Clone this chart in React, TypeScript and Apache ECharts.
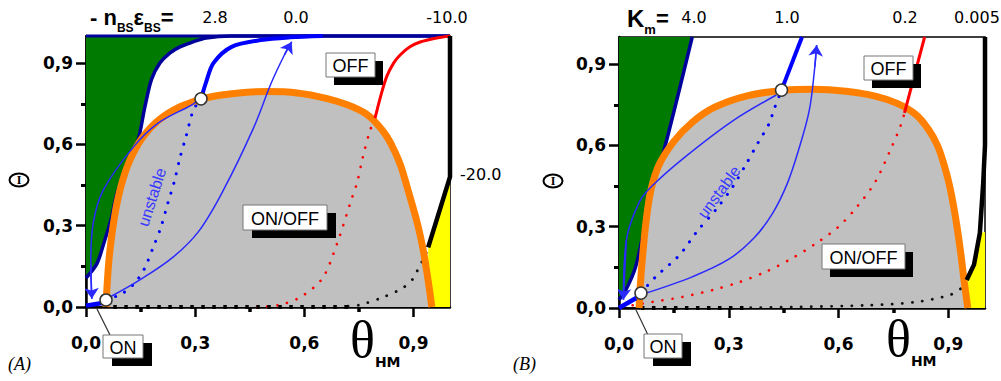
import React, { useEffect, useRef } from 'react';
import * as echarts from 'echarts';

type P = [number, number];

// ---------- axis values ----------
const majorTicks = [0, 0.3, 0.6, 0.9];
const minorTicks = [0.15, 0.45, 0.75];

// ---------- Panel A ----------
const paramLabelsA = ['2.8', '0.0', '-10.0', '-20.0'];
const navyA: P[] = [[0.0, 0.107], [0.03, 0.16], [0.05, 0.24], [0.07, 0.33], [0.085, 0.42], [0.115, 0.53], [0.143, 0.616], [0.162, 0.74], [0.18, 0.84], [0.203, 0.9], [0.23, 0.937], [0.258, 0.96], [0.294, 0.978], [0.33, 0.993], [0.4, 1.0], [1.0, 1.0]];
const topEdgeA: P[] = [[0, 1], [1, 1]];
const domeA: P[] = [[0.055, 0], [0.058, 0.08], [0.065, 0.2], [0.078, 0.33], [0.095, 0.44], [0.12, 0.54], [0.155, 0.625], [0.2, 0.69], [0.26, 0.74], [0.33, 0.772], [0.42, 0.79], [0.5, 0.795], [0.58, 0.79], [0.66, 0.77], [0.72, 0.745], [0.77, 0.712], [0.8, 0.675], [0.826, 0.63], [0.848, 0.575], [0.865, 0.52], [0.885, 0.43], [0.9, 0.36], [0.912, 0.3], [0.925, 0.22], [0.935, 0.14], [0.943, 0.07], [0.95, 0]];
const yellowA: P[] = [[0.94, 0.22], [1.0, 0.48]];
const blackA: P[] = [[0.94, 0.22], [1.0, 0.48], [1.0, 1.0]];
const blackDotA: P[] = [[0.72, 0.003], [0.75, 0.007], [0.81, 0.033], [0.87, 0.07], [0.9, 0.107], [0.915, 0.148], [0.93, 0.185], [0.94, 0.22]];
const blackSqA: P[] = [[0.075, 0], [0.72, 0]];
const redA: P[] = [[0.794, 0.697], [0.81, 0.78], [0.826, 0.85], [0.845, 0.9], [0.863, 0.93], [0.89, 0.96], [0.918, 0.978], [0.96, 0.992], [1.0, 1.0]];
const redDotA: P[] = [[0.47, 0], [0.53, 0.007], [0.59, 0.037], [0.65, 0.107], [0.69, 0.235], [0.73, 0.4], [0.745, 0.46], [0.76, 0.55], [0.78, 0.65], [0.794, 0.697]];
const blueA: P[] = [[0.316, 0.768], [0.33, 0.83], [0.35, 0.9], [0.4, 0.96], [0.48, 0.985], [0.56, 0.995], [0.65, 1.0]];
const blueDotA: P[] = [[0.055, 0.026], [0.1, 0.05], [0.135, 0.09], [0.16, 0.14], [0.184, 0.218], [0.206, 0.295], [0.225, 0.384], [0.242, 0.46], [0.258, 0.55], [0.275, 0.63], [0.295, 0.727], [0.316, 0.768]];
const blueOnA: P[] = [[0.0, 0.005], [0.045, 0.015]];
const arrowUpA: P[] = [[0.066, 0.037], [0.148, 0.1], [0.24, 0.185], [0.31, 0.28], [0.377, 0.43], [0.46, 0.66], [0.51, 0.83], [0.545, 0.93], [0.565, 0.978]];
const arrowDownA: P[] = [[0.305, 0.76], [0.29, 0.745], [0.2, 0.68], [0.13, 0.59], [0.047, 0.43], [0.02, 0.31], [0.013, 0.16], [0.016, 0.03]];
const pointsA: P[] = [[0.055, 0.026], [0.316, 0.768]];

// ---------- Panel B ----------
const paramLabelsB = ['4.0', '1.0', '0.2', '0.005'];
const navyB: P[] = [[0.0, 0.03], [0.02, 0.07], [0.045, 0.15], [0.07, 0.3], [0.09, 0.45], [0.118, 0.557], [0.2, 1.0]];
const domeB: P[] = [[0.055, 0], [0.058, 0.08], [0.065, 0.2], [0.075, 0.33], [0.088, 0.44], [0.11, 0.53], [0.15, 0.615], [0.2, 0.685], [0.26, 0.74], [0.35, 0.783], [0.45, 0.803], [0.53, 0.807], [0.62, 0.8], [0.7, 0.782], [0.76, 0.755], [0.81, 0.715], [0.845, 0.66], [0.87, 0.6], [0.89, 0.52], [0.905, 0.44], [0.92, 0.33], [0.933, 0.21], [0.943, 0.1], [0.953, 0]];
const yellowB: P[] = [[0.95, 0.103], [0.97, 0.16], [0.986, 0.277], [1.0, 0.28]];
const blackB: P[] = [[0.95, 0.103], [0.97, 0.16], [0.986, 0.277], [0.995, 0.46], [1.0, 0.6], [1.0, 1.0]];
const blackDotB: P[] = [[0.36, 0.001], [0.49, 0.004], [0.68, 0.01], [0.81, 0.022], [0.904, 0.048], [0.937, 0.074], [0.955, 0.09]];
const blackSqB: P[] = [[0.06, 0], [0.36, 0]];
const redB: P[] = [[0.78, 0.72], [0.835, 1.0]];
const redDotB: P[] = [[0.01, 0.004], [0.09, 0.022], [0.17, 0.04], [0.255, 0.066], [0.33, 0.096], [0.4, 0.133], [0.475, 0.185], [0.54, 0.24], [0.6, 0.3], [0.65, 0.373], [0.7, 0.465], [0.745, 0.594], [0.77, 0.675], [0.78, 0.72]];
const blueB: P[] = [[0.444, 0.804], [0.5, 1.0]];
const blueDotB: P[] = [[0.06, 0.055], [0.1, 0.115], [0.165, 0.195], [0.214, 0.284], [0.266, 0.365], [0.31, 0.446], [0.347, 0.53], [0.38, 0.61], [0.41, 0.68], [0.425, 0.738], [0.444, 0.804]];
const blueOnB: P[] = [[0.0, 0.0], [0.047, 0.037]];
const arrowUpB: P[] = [[0.074, 0.055], [0.2, 0.115], [0.3, 0.18], [0.37, 0.26], [0.42, 0.35], [0.46, 0.46], [0.49, 0.58], [0.52, 0.73], [0.535, 0.89], [0.54, 0.97]];
const arrowDownB: P[] = [[0.43, 0.786], [0.31, 0.69], [0.18, 0.557], [0.09, 0.45], [0.055, 0.39], [0.02, 0.25], [0.012, 0.03]];
const pointsB: P[] = [[0.06, 0.055], [0.444, 0.804]];

const boxLabels = ['OFF', 'ON/OFF', 'ON'];

// ---------- styles ----------
const GREEN = '#007a00';
const GRAY = '#c0c0c0';
const ORANGE = '#ff8000';
const YELLOW = '#ffff00';
const NAVY = '#00009a';
const BLUE = '#0000ff';
const RED = '#ff0000';
const THIN = '#2a2aff';
const SANS = 'Liberation Sans';
const WIDE = 'DejaVu Sans';
const SERIF = 'Liberation Serif';

const fmt = (v: number) => v.toFixed(1).replace('.', ',');

function axes(gridIndex: number) {
  const lineStyle = { color: '#000', width: 2.5 };
  const base = { type: 'value', gridIndex, min: 0, max: 1, splitLine: { show: false } };
  const label = { customValues: majorTicks, formatter: fmt, color: '#000', fontFamily: WIDE, fontWeight: 'bold', fontSize: 17 };
  return {
    x: [
      { ...base, position: 'bottom', axisLine: { show: true, onZero: false, lineStyle }, axisTick: { show: true, customValues: majorTicks, length: 10, lineStyle: { color: '#000', width: 2.5 } }, axisLabel: { ...label, margin: 27 } },
      { ...base, position: 'bottom', axisLine: { show: false }, axisTick: { show: true, customValues: minorTicks, length: 5, lineStyle: { color: '#000', width: 3.5 } }, axisLabel: { show: false } },
    ],
    y: [
      { ...base, position: 'left', axisLine: { show: true, onZero: false, lineStyle }, axisTick: { show: true, customValues: majorTicks, length: 10, lineStyle: { color: '#000', width: 2.5 } }, axisLabel: { ...label, margin: 13 } },
      { ...base, position: 'left', axisLine: { show: false }, axisTick: { show: true, customValues: minorTicks, length: 5, lineStyle: { color: '#000', width: 3 } }, axisLabel: { show: false } },
    ],
  };
}

function makeSeries(ai: number, d: any) {
  const common = { xAxisIndex: ai, yAxisIndex: ai, showSymbol: false, symbol: 'none', clip: false, silent: true, animation: false };
  const area = (data: P[], color: string, origin: string, z: number, smooth: number) => ({
    ...common, type: 'line', data, z, smooth,
    lineStyle: { opacity: 0, width: 0 }, areaStyle: { color, opacity: 1, origin },
  });
  const line = (data: P[], color: string, width: number, z: number, smooth: number | boolean, extra: any = {}) => ({
    ...common, type: 'line', data, z, smooth,
    lineStyle: { color, width, ...extra },
  });
  const dotted = (data: P[], color: string, width: number) => line(data, color, width, 3, 0.3, { type: [0.1, 10], cap: 'round' });
  const head = (arr: P[], size: number) => ({
    type: 'lines', coordinateSystem: 'cartesian2d', xAxisIndex: ai, yAxisIndex: ai, z: 7, silent: true, animation: false,
    symbol: ['none', 'arrow'], symbolSize: size,
    lineStyle: { color: THIN, width: 1.5, opacity: 1, curveness: 0 },
    data: [{ coords: [arr[arr.length - 2], arr[arr.length - 1]] }],
  });
  const s: any[] = [
    area(d.navy, GREEN, 'end', 1, 0.3),
    area(d.yellow, YELLOW, 'start', 1, 0),
    area(d.dome, GRAY, 'start', 2, 0.4),
    dotted(d.blueDot, BLUE, 3),
    dotted(d.redDot, RED, 2.6),
    dotted(d.blackDot, '#111', 2.8),
    line(d.blackSq, '#000', 4, 3, false, { type: [3.5, 7.5] }),
    line(d.navy, NAVY, 3.5, 4, 0.3),
    line(d.dome, ORANGE, 7, 5, 0.4),
    line(d.blue, BLUE, 4, 6, 0.3),
    line(d.red, RED, 3, 6, 0.3),
    line(d.black, '#000', 4.5, 6, false),
    line(d.blueOn, BLUE, 4.5, 6, false),
    line(d.arrowUp, THIN, 1.5, 7, 0.35),
    line(d.arrowDown, THIN, 1.5, 7, 0.35),
    head(d.arrowUp, 11),
    head(d.arrowDown, 11),
    {
      type: 'scatter', xAxisIndex: ai, yAxisIndex: ai, z: 8, silent: true, animation: false,
      symbol: 'circle', symbolSize: 12, data: d.points,
      itemStyle: { color: '#fff', borderColor: '#333', borderWidth: 1.5, opacity: 1 },
    },
  ];
  if (d.topEdge) s.push(line(d.topEdge, NAVY, 3, 4, false));
  return s;
}

function txt(text: string, x: number, y: number, size: number, opts: any = {}) {
  return {
    type: 'text', x, y, rotation: opts.rotation || 0, z: 100, silent: true,
    style: {
      text, x: 0, y: 0, fill: opts.color || '#000', fontSize: size,
      fontFamily: opts.family || SANS, fontWeight: opts.weight || 'normal', fontStyle: opts.style || 'normal',
      align: opts.align || 'left', verticalAlign: opts.va || 'middle',
      ...(opts.rich ? { rich: opts.rich } : {}),
    },
  };
}

function box(label: string, x: number, y: number, w: number, h: number, dx: number, dy: number) {
  return [
    { type: 'rect', z: 100, silent: true, shape: { x: x + dx, y: y + dy, width: w, height: h }, style: { fill: '#000' } },
    { type: 'rect', z: 101, silent: true, shape: { x, y, width: w, height: h }, style: { fill: '#fff', stroke: '#777', lineWidth: 1 } },
    { ...txt(label, x + w / 2, y + h / 2 + 1, 18, { align: 'center' }), z: 102 },
  ];
}

export default function App() {
  const ref = useRef<HTMLDivElement>(null);
  useEffect(() => {
    const chart = echarts.init(ref.current!, null, { renderer: 'svg' });
    const aA = axes(0);
    const aB = axes(1);
    const dA = { navy: navyA, topEdge: topEdgeA, dome: domeA, yellow: yellowA, black: blackA, blackDot: blackDotA, blackSq: blackSqA, red: redA, redDot: redDotA, blue: blueA, blueDot: blueDotA, blueOn: blueOnA, arrowUp: arrowUpA, arrowDown: arrowDownA, points: pointsA };
    const dB = { navy: navyB, dome: domeB, yellow: yellowB, black: blackB, blackDot: blackDotB, blackSq: blackSqB, red: redB, redDot: redDotB, blue: blueB, blueDot: blueDotB, blueOn: blueOnB, arrowUp: arrowUpB, arrowDown: arrowDownB, points: pointsB };

    const paramPosA: P[] = [[215, 17], [296, 17], [447, 17], [460, 174]];
    const paramPosB: P[] = [[694, 17], [787, 17], [905, 17], [977, 17]];

    const headRich = {
      a: { fontSize: 22, fontWeight: 'bold', fontFamily: SANS, lineHeight: 34, verticalAlign: 'middle', fill: '#000' },
      s: { fontSize: 12, fontWeight: 'bold', fontFamily: SANS, lineHeight: 12, verticalAlign: 'bottom', fill: '#000' },
    };
    const kRich = {
      a: { fontSize: 24, fontWeight: 'bold', fontFamily: SANS, lineHeight: 36, verticalAlign: 'middle', fill: '#000' },
      e: { fontSize: 22, fontWeight: 'bold', fontFamily: SANS, lineHeight: 34, verticalAlign: 'middle', fill: '#000' },
      s: { fontSize: 13, fontWeight: 'bold', fontFamily: SANS, lineHeight: 13, verticalAlign: 'bottom', fill: '#000' },
    };
    const thRich = {
      t: { fontSize: 52, fontFamily: SERIF, lineHeight: 60, verticalAlign: 'middle', fill: '#000' },
      s: { fontSize: 14, fontWeight: 'bold', fontFamily: WIDE, lineHeight: 14, verticalAlign: 'bottom', fill: '#000' },
    };

    const graphic: any[] = [
      // headers (rich text with subscripts)
      txt('{a|- n}{s|BS}{a|ε}{s|BS}{a|=}', 90, 0, 22, { va: 'top', rich: headRich }),
      ...paramLabelsA.map((t, i) => txt(t, paramPosA[i][0], paramPosA[i][1], 16, { family: WIDE, align: i === 3 ? 'left' : 'center' })),
      txt('{a|K}{s|m}{e|=}', 627, 0, 24, { va: 'top', rich: kRich }),
      ...paramLabelsB.map((t, i) => txt(t, paramPosB[i][0], paramPosB[i][1], 16, { family: WIDE, align: 'center' })),
      // y labels
      { type: 'ellipse', z: 100, silent: true, shape: { cx: 19, cy: 180, rx: 9.5, ry: 6.5 }, style: { fill: 'none', stroke: '#000', lineWidth: 2 } },
      txt('I', 19, 180, 12, { family: SERIF, weight: 'bold', align: 'center' }),
      { type: 'ellipse', z: 100, silent: true, shape: { cx: 553, cy: 181, rx: 9.5, ry: 6.5 }, style: { fill: 'none', stroke: '#000', lineWidth: 2 } },
      txt('I', 553, 181, 12, { family: SERIF, weight: 'bold', align: 'center' }),
      // x labels
      txt('{t|θ}{s|HM}', 350, 309, 52, { va: 'top', rich: thRich }),
      txt('{t|θ}{s|HM}', 886, 308, 52, { va: 'top', rich: thRich }),
      // panel letters
      txt('(A)', 8, 364, 18, { family: SERIF, style: 'italic' }),
      txt('(B)', 513, 364, 18, { family: SERIF, style: 'italic' }),
      // unstable
      txt('unstable', 152, 197, 16, { color: '#3a3aff', align: 'center', rotation: 72 * Math.PI / 180 }),
      txt('unstable', 719, 192, 16, { color: '#3a3aff', align: 'center', rotation: 53.5 * Math.PI / 180 }),
      // pointer lines
      { type: 'line', z: 99, silent: true, shape: { x1: 110, y1: 335, x2: 97, y2: 309 }, style: { stroke: '#333', lineWidth: 1.2 } },
      { type: 'line', z: 99, silent: true, shape: { x1: 648, y1: 335, x2: 636, y2: 310 }, style: { stroke: '#333', lineWidth: 1.2 } },
      // boxes
      ...box(boxLabels[0], 326, 53, 49, 24, 8, 8),
      ...box(boxLabels[1], 243, 205, 84, 25, 9, 8),
      ...box(boxLabels[2], 103, 335, 40, 23, 9, 8),
      ...box(boxLabels[0], 864, 56, 49, 24, 8, 8),
      ...box(boxLabels[1], 822, 244, 83, 25, 8, 8),
      ...box(boxLabels[2], 644, 334, 38, 24, 9, 8),
    ];

    chart.setOption({
      animation: false,
      backgroundColor: '#fff',
      grid: [
        { left: 86, top: 36, width: 364, height: 271, show: true, borderColor: '#000', borderWidth: 1.5, backgroundColor: 'transparent' },
        { left: 619, top: 37, width: 366, height: 271, show: true, borderColor: '#000', borderWidth: 1.5, backgroundColor: 'transparent' },
      ],
      xAxis: [...aA.x, ...aB.x],
      yAxis: [...aA.y, ...aB.y],
      series: [...makeSeries(0, dA), ...makeSeries(2, dB)],
      graphic,
    });
    return () => chart.dispose();
  }, []);
  return <div ref={ref} style={{ position: 'absolute', left: 0, top: 0, width: 1001, height: 381, background: '#fff' }} />;
}
